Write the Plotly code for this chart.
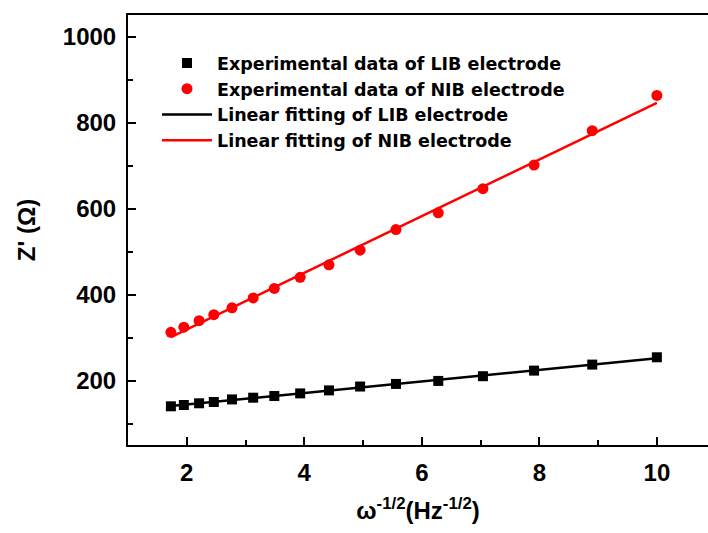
import numpy as np
import plotly.graph_objects as go

# x: omega^-1/2 (Hz^-1/2), shared by both series
x_vals = [1.73, 1.95, 2.21, 2.46, 2.77, 3.13, 3.49, 3.93, 4.42, 4.95, 5.56, 6.28, 7.04, 7.91, 8.90, 10.0]
lib_z = [140, 143, 147, 150, 156, 160, 164, 170, 177, 186, 192, 199, 210, 223, 237, 254]
nib_z = [312, 324, 339, 353, 369, 392, 414, 440, 469, 503, 551, 590, 646, 701, 781, 863]

names = [
    "Experimental data of LIB electrode",
    "Experimental data of NIB electrode",
    "Linear fitting of LIB electrode",
    "Linear fitting of NIB electrode",
]

x_arr = np.array(x_vals)
lib_fit = np.polyfit(x_arr, np.array(lib_z), 1)
nib_fit = np.polyfit(x_arr, np.array(nib_z), 1)
x_line = [x_vals[0], x_vals[-1]]

FONT = "Liberation Sans, Arial, sans-serif"
LEG_FONT = "DejaVu Sans, Liberation Sans, sans-serif"

fig = go.Figure()
fig.add_trace(go.Scatter(
    x=x_vals, y=lib_z, mode="markers", name=names[0], legendgroup="a",
    marker=dict(symbol="square", size=10, color="black"),
))
fig.add_trace(go.Scatter(
    x=x_vals, y=nib_z, mode="markers", name=names[1], legendgroup="b",
    marker=dict(symbol="circle", size=11, color="#ff0000"),
))
fig.add_trace(go.Scatter(
    x=x_line, y=list(np.polyval(lib_fit, x_line)), mode="lines", name=names[2], legendgroup="c",
    line=dict(color="black", width=2.5),
))
fig.add_trace(go.Scatter(
    x=x_line, y=list(np.polyval(nib_fit, x_line)), mode="lines", name=names[3], legendgroup="d",
    line=dict(color="#ff0000", width=2.5),
))

tick_font = dict(family=FONT, size=24, color="black", weight="bold")
title_font = dict(family=FONT, size=24, color="black", weight="bold")

fig.update_layout(
    width=708, height=533,
    margin=dict(l=128, r=0, t=15, b=88),
    paper_bgcolor="white", plot_bgcolor="white",
    showlegend=True,
    legend=dict(
        x=0.05, y=0.93, xanchor="left", yanchor="top",
        font=dict(family=LEG_FONT, size=17.5, color="black", weight="bold"),
        bgcolor="rgba(0,0,0,0)", tracegroupgap=0, itemwidth=50,
    ),
    xaxis=dict(
        range=[1, 10.87], showgrid=False, zeroline=False,
        showline=True, linecolor="black", linewidth=2, mirror=True,
        ticks="inside", ticklen=8, tickwidth=2, tickcolor="black",
        tickvals=[2, 4, 6, 8, 10], ticktext=["2", "4", "6", "8", "10"],
        tickfont=tick_font, ticklabelstandoff=5,
        minor=dict(ticks="inside", ticklen=5, tickwidth=2, tickcolor="black", dtick=1, tick0=0, showgrid=False),
        title=dict(text="ω<sup>-1/2</sup>(Hz<sup>-1/2</sup>)", font=title_font, standoff=17),
    ),
    yaxis=dict(
        range=[50, 1050], showgrid=False, zeroline=False,
        showline=True, linecolor="black", linewidth=2, mirror=False,
        ticks="inside", ticklen=8, tickwidth=2, tickcolor="black",
        tickvals=[200, 400, 600, 800, 1000], ticktext=["200", "400", "600", "800", "1000"],
        tickfont=tick_font, ticklabelstandoff=5,
        minor=dict(ticks="inside", ticklen=5, tickwidth=2, tickcolor="black", dtick=100, tick0=0, showgrid=False),
        title=dict(text="Z' (Ω)", font=title_font, standoff=20),
    ),
)

fig.write_html(
    "out.html",
    config={"displayModeBar": False},
    post_script="document.body.style.margin='0';document.body.style.padding='0';",
)
